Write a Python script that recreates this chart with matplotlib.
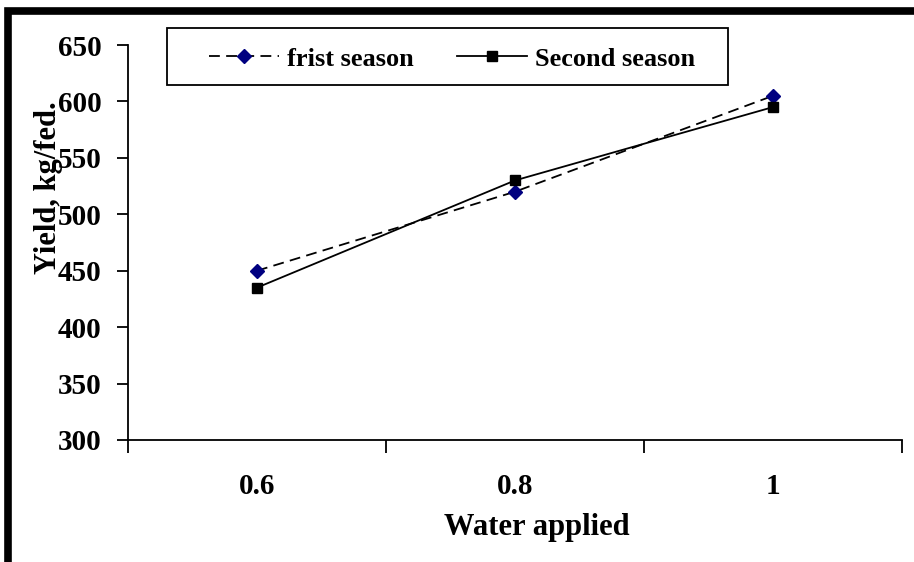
import matplotlib
matplotlib.use("Agg")
import matplotlib.pyplot as plt
from matplotlib.patches import Rectangle

categories = ["0.6", "0.8", "1"]
first_season = [450, 520, 605]
second_season = [435, 530, 595]
y_ticks = [300, 350, 400, 450, 500, 550, 600, 650]

plt.rcParams['font.family'] = ['Liberation Serif', 'DejaVu Serif']
plt.rcParams['font.weight'] = 'bold'

W, H = 914, 562
fig = plt.figure(figsize=(W / 100, H / 100), dpi=100)
# outer thick frame (cut off at right and bottom)
fig.patches.append(Rectangle((8 / W, -0.1), 1.2, 1.1 - 11 / H, transform=fig.transFigure,
                             fill=False, edgecolor='black', linewidth=5.5, zorder=10))

ax = fig.add_axes([128 / W, 1 - 440 / H, (902 - 128) / W, (440 - 45) / H])
x = list(range(len(categories)))

ax.plot(x, first_season, color='black', linestyle=(0, (6, 3.5)), linewidth=1.3,
        marker='D', markersize=7.5, markerfacecolor='#000080', markeredgecolor='#000080',
        label='frist season', zorder=3)
ax.plot(x, second_season, color='black', linestyle='-', linewidth=1.3,
        marker='s', markersize=6.5, markerfacecolor='black', markeredgecolor='black',
        label='Second season', zorder=3)

ax.set_xlim(-0.5, len(categories) - 0.5)
ax.set_ylim(300, 650)
ax.set_yticks(y_ticks)
ax.set_yticklabels([str(v) for v in y_ticks], fontsize=21, fontweight='bold')
ax.set_xticks([i - 0.5 for i in range(len(categories) + 1)])
ax.set_xticklabels([])
ax.set_xticks(x, minor=True)
ax.set_xticklabels(categories, minor=True, fontsize=21, fontweight='bold')
ax.tick_params(axis='x', which='major', direction='out', length=9, width=1.3)
ax.tick_params(axis='x', which='minor', length=0, pad=24)
ax.tick_params(axis='y', direction='out', length=8, width=1.3, pad=11)

for s in ['top', 'right']:
    ax.spines[s].set_visible(False)
for s in ['left', 'bottom']:
    ax.spines[s].set_linewidth(1.3)

ax.set_xlabel('Water applied', fontsize=22, fontweight='bold', labelpad=9)
ax.xaxis.set_label_coords((537 - 128) / 774, -((528 - 440) / 395))
ax.xaxis.label.set_va('center')
ax.set_ylabel('Yield, kg/fed.', fontsize=22, fontweight='bold', va='center')
ax.yaxis.set_label_coords((49 - 128) / 774, (440 - 188) / 395)

# legend box
fig.patches.append(Rectangle((167 / W, 1 - 85 / H), (728 - 167) / W, (85 - 28) / H,
                             transform=fig.transFigure, fill=False, edgecolor='black',
                             linewidth=1.3, zorder=5))
leg = ax.legend(loc='center left', bbox_to_anchor=(209 / W, 1 - 59 / H),
                bbox_transform=fig.transFigure, ncol=2, frameon=False,
                fontsize=19, handlelength=2.65, handletextpad=0.3,
                borderpad=0, columnspacing=1.65, borderaxespad=0)
for t in leg.get_texts():
    t.set_fontweight('bold')

fig.savefig('out.png', dpi=100)
